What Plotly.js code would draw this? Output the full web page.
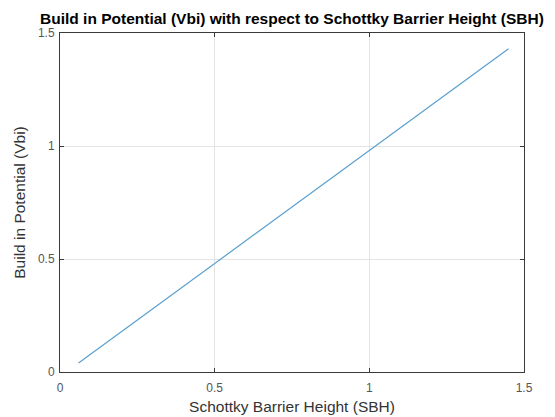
<!DOCTYPE html>
<html>
<head>
<meta charset="utf-8">
<script src="https://cdn.plot.ly/plotly-3.0.1.min.js"></script>
<style>html,body{margin:0;padding:0;background:#fff;}#chart{width:555px;height:417px;}</style>
</head>
<body>
<div id="chart"></div>
<script>
const sbh = [0.06, 0.2, 0.4, 0.6, 0.8, 1.0, 1.2, 1.45];
const vbi = [0.04, 0.18, 0.38, 0.58, 0.78, 0.98, 1.18, 1.43];
const tickVals = [0, 0.5, 1, 1.5];
const tickText = ["0", "0.5", "1", "1.5"];

const axisCommon = {
  range: [0, 1.5],
  tickvals: tickVals,
  ticktext: tickText,
  showgrid: true,
  gridcolor: "#e4e4e4",
  gridwidth: 1,
  zeroline: false,
  showline: true,
  linecolor: "#3a3a3a",
  linewidth: 1,
  mirror: "ticks",
  ticks: "inside",
  ticklen: 4,
  tickcolor: "#3a3a3a",
  tickfont: {family: "Liberation Sans, Arial, sans-serif", size: 12, color: "#555"},
  fixedrange: true
};

const layout = {
  width: 555, height: 417,
  margin: {l: 60, r: 31, t: 33, b: 45},
  paper_bgcolor: "#fff",
  plot_bgcolor: "#fff",
  showlegend: false,
  title: {
    text: "<b>Build in Potential (Vbi) with respect to Schottky Barrier Height (SBH)</b>",
    font: {family: "Liberation Sans, Arial, sans-serif", size: 15.5, color: "#000"},
    x: 0.526, xanchor: "center", y: 0.956, yanchor: "middle"
  },
  xaxis: Object.assign({}, axisCommon, {
    ticklabelstandoff: 5,
    title: {text: "Schottky Barrier Height (SBH)", font: {family: "Liberation Sans, Arial, sans-serif", size: 15.5, color: "#333"}, standoff: 6}
  }),
  yaxis: Object.assign({}, axisCommon, {
    ticklabelstandoff: 2,
    title: {text: "Build in Potential (Vbi)", font: {family: "Liberation Sans, Arial, sans-serif", size: 15.5, color: "#333"}, standoff: 8}
  })
};

Plotly.newPlot("chart", [{
  x: sbh, y: vbi, type: "scatter", mode: "lines",
  line: {color: "#5a9fd0", width: 1.2}
}], layout, {staticPlot: true, displayModeBar: false});
</script>
</body>
</html>
